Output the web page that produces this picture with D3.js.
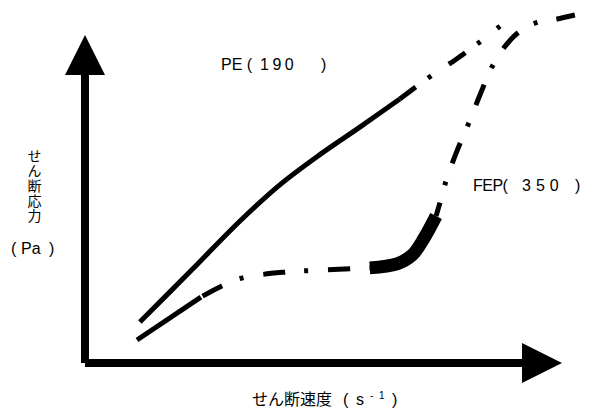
<!DOCTYPE html>
<html>
<head>
<meta charset="utf-8">
<script src="https://cdn.jsdelivr.net/npm/d3@7/dist/d3.min.js"></script>
<style>
  html, body { margin: 0; padding: 0; background: #fff; }
  svg { display: block; }
  text { font-family: "Liberation Sans", Arial, "Noto Sans CJK JP", sans-serif; fill: #000; white-space: pre; }
  .jp { font-family: "Noto Sans CJK JP", sans-serif; }
  .vertical { writing-mode: vertical-rl; text-orientation: upright; }
</style>
</head>
<body>
<svg id="chart" width="590" height="410"></svg>
<script>
// Flow curves (arbitrary units): shear rate vs. shear stress
// PE at 190: measured part (solid) and extrapolated part (dash-dot)
const peMeasured     = [[11.5, 12.5], [22.4, 28.4], [32.5, 43.3], [40.9, 54.4], [49.3, 63.6], [57.7, 72.0], [66.0, 80.5]];
const peExtrapolated = [[66.0, 80.5], [71.9, 86.9], [77.6, 92.4], [82.8, 97.9], [87.0, 102.7]];

// FEP at 350: measured start, plateau, transition (bold), and steep rise
const fepMeasured   = [[10.9, 7.0], [24.3, 20.1]];
const fepPlateau    = [[24.3, 20.1], [28.7, 23.5], [32.9, 25.9], [41.9, 27.7], [50.7, 28.4], [59.7, 29.0]];
const fepTransition = [[59.7, 29.0], [65.4, 30.2], [68.6, 32.9], [71.1, 38.1], [73.6, 44.8]];
const fepRise       = [[73.6, 44.8], [74.4, 48.8], [75.5, 54.6], [77.8, 64.0], [80.3, 72.6], [82.8, 81.7],
                       [85.3, 90.2], [88.3, 97.0], [91.2, 101.2], [94.5, 103.7], [99.0, 104.9], [102.7, 106.1]];

const axisTitles = { y: "せん断応力", yUnit: "Pa", x: "せん断速度" };

const svg = d3.select("#chart");
const x = d3.scaleLinear().domain([0, 100]).range([85, 562]);
const y = d3.scaleLinear().domain([0, 100]).range([363, 35]);

const line = d3.line()
  .x(d => x(d[0]))
  .y(d => y(d[1]))
  .curve(d3.curveCatmullRom.alpha(0.5));

function drawCurve(data, width, dash, offset) {
  svg.append("path")
    .attr("d", line(data))
    .attr("fill", "none")
    .attr("stroke", "#000")
    .attr("stroke-width", width)
    .attr("stroke-linecap", "butt")
    .attr("stroke-linejoin", "round")
    .attr("stroke-dasharray", dash || null)
    .attr("stroke-dashoffset", offset || 0);
}

// Axes with arrow heads
const x0 = x(0), y0 = y(0), xEnd = x(100), yEnd = y(100);
const axW = 8, headLen = 40, headHalf = 20;
svg.append("rect").attr("x", x0 - axW / 2).attr("y", yEnd + headLen - 1)
  .attr("width", axW).attr("height", y0 - (yEnd + headLen - 1));
svg.append("rect").attr("x", x0).attr("y", y0 - axW / 2)
  .attr("width", xEnd - headLen + 1 - x0).attr("height", axW);
svg.append("path").attr("d", d3.line()([[x0, yEnd], [x0 - headHalf, yEnd + headLen], [x0 + headHalf, yEnd + headLen]]) + "Z");
svg.append("path").attr("d", d3.line()([[xEnd, y0], [xEnd - headLen, y0 - headHalf], [xEnd - headLen, y0 + headHalf]]) + "Z");

// Curves
drawCurve(peMeasured, 5);
drawCurve(peExtrapolated, 5, "20,15,4,21");
drawCurve(fepMeasured, 5);
drawCurve(fepPlateau, 5, "22,19,4,20", -2);
drawCurve(fepRise, 5, "22,18,4,19", 8);
drawCurve(fepTransition, 13);

// Series labels
const pe = svg.append("text").attr("x", 221).attr("y", 70).attr("font-size", 16);
pe.append("tspan").text("PE (");
pe.append("tspan").attr("x", 260).attr("letter-spacing", 3.5).text("190");
pe.append("tspan").attr("x", 321).text(")");

const fep = svg.append("text").attr("x", 473).attr("y", 191).attr("font-size", 16);
fep.append("tspan").attr("letter-spacing", -0.5).text("FEP(");
fep.append("tspan").attr("x", 522).attr("letter-spacing", 5).text("350");
fep.append("tspan").attr("x", 575).text(")");

// Y axis title, written vertically
svg.append("text")
  .attr("class", "jp vertical")
  .attr("x", 34.5).attr("y", 149)
  .attr("font-size", 14)
  .attr("letter-spacing", 1)
  .text(axisTitles.y);
const yu = svg.append("text").attr("y", 254).attr("font-size", 16);
yu.append("tspan").attr("x", 11).text("(");
yu.append("tspan").attr("x", 21).text(axisTitles.yUnit);
yu.append("tspan").attr("x", 49).text(")");

// X axis title
const xt = svg.append("text").attr("y", 405).attr("font-size", 16);
xt.append("tspan").attr("class", "jp").attr("x", 252).text(axisTitles.x);
xt.append("tspan").attr("x", 343).text("(");
xt.append("tspan").attr("x", 356).text("s");
xt.append("tspan").attr("x", 370).attr("dy", -6).attr("font-size", 10).text("-");
xt.append("tspan").attr("x", 379).attr("font-size", 10).text("1");
xt.append("tspan").attr("x", 392).attr("dy", 6).text(")");
</script>
</body>
</html>
